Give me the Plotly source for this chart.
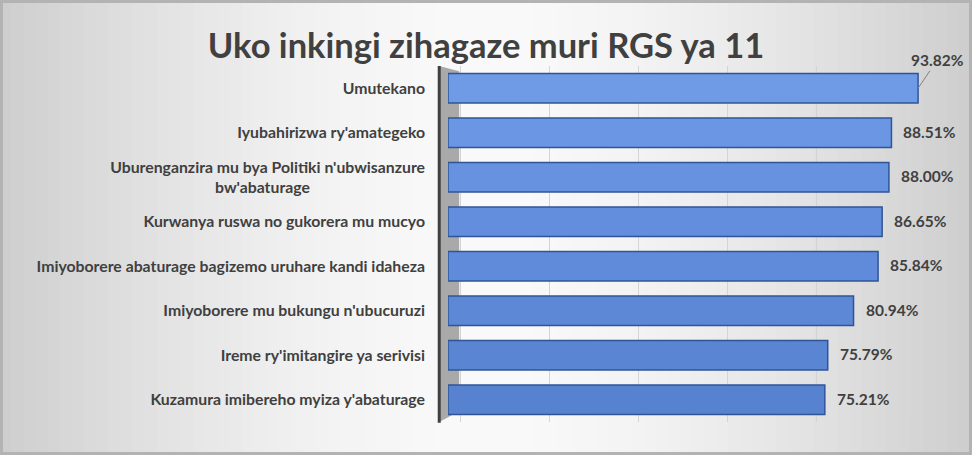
import plotly.graph_objects as go

# RGS 11 pillar scores (top to bottom as shown)
pillars = [
    "Umutekano",
    "Iyubahirizwa ry'amategeko",
    "Uburenganzira mu bya Politiki n'ubwisanzure<br>bw'abaturage" + "\u00a0" * 30,
    "Kurwanya ruswa no gukorera mu mucyo",
    "Imiyoborere abaturage bagizemo uruhare kandi idaheza",
    "Imiyoborere mu bukungu n'ubucuruzi",
    "Ireme ry'imitangire ya serivisi",
    "Kuzamura imibereho myiza y'abaturage",
]
scores = [93.82, 88.51, 88.00, 86.65, 85.84, 80.94, 75.79, 75.21]
labels = [f"{v:.2f}%" for v in scores]

font_name = "Lato"
text_col = "#404040"

# bars get slightly lighter towards the top, like the 3D shading in the original
bar_colors = ["#6e9ae6", "#6a96e3", "#6692e0", "#628edd", "#5f8bda", "#5c88d6", "#5985d3", "#5682d0"]

fig = go.Figure()

fig.add_trace(go.Bar(
    x=scores, y=pillars, orientation="h", width=0.66,
    marker=dict(color=bar_colors, line=dict(color="#2f5597", width=1.5)),
    showlegend=False,
))

# grid on the back wall (0-100 in steps of 20)
fig.add_trace(go.Scatter(x=[0, 100], y=[pillars[0], pillars[0]], xaxis="x2", yaxis="y",
                         mode="markers", marker=dict(opacity=0), showlegend=False,
                         hoverinfo="skip"))

# data labels
annotations = []
for i, (p, v, t) in enumerate(zip(pillars, scores, labels)):
    if i == 0:
        annotations.append(dict(x=v, y=p, xref="x", yref="y", text=t, showarrow=True,
                                ax=19, ay=-28, arrowhead=0, arrowwidth=1, arrowcolor="#808080",
                                font=dict(family=font_name, size=15.5, color=text_col, weight="bold")))
    else:
        annotations.append(dict(x=v, y=p, xref="x", yref="y", text=t, showarrow=False,
                                xanchor="left", xshift=10, yshift=1,
                                font=dict(family=font_name, size=15.5, color=text_col, weight="bold")))

# background gradient strips + wall + border
shapes = []
n = 80
for k in range(n):
    f = (k + 0.5) / n
    d = abs(f - 0.5) / 0.5
    g = int(250 - 44 * d ** 1.6)
    shapes.append(dict(type="rect", xref="paper", yref="paper", layer="below",
                       x0=-448 / 487 + (k / n) * (972 / 487) - 0.002,
                       x1=-448 / 487 + ((k + 1) / n) * (972 / 487) + 0.002,
                       y0=-0.2, y1=1.3,
                       line=dict(width=0), fillcolor=f"rgb({g},{g},{g})"))
shapes.append(dict(type="path", xref="paper", yref="paper", layer="below",
                   path="M -0.018 1.0 L 0.023 0.985 L 0.023 0.03 L -0.018 0.0 Z",
                   fillcolor="#a9a9a9", line=dict(width=0)))
shapes.append(dict(type="line", xref="paper", yref="paper", x0=-0.018, x1=-0.018,
                   y0=-0.002, y1=1.0, line=dict(color="#404040", width=3)))
shapes.append(dict(type="rect", xref="paper", yref="paper", x0=-448 / 487 + 0.002,
                   x1=1 + 37 / 487 - 0.002, y0=-33 / 356 + 0.003, y1=1 + 66 / 356 - 0.003,
                   line=dict(color="#b3b3b3", width=4)))

fig.update_layout(
    width=972, height=455,
    margin=dict(l=448, r=37, t=66, b=33),
    paper_bgcolor="#ececec", plot_bgcolor="rgba(0,0,0,0)",
    title=dict(text="Uko inkingi zihagaze muri RGS ya 11", x=0.5, xanchor="center",
               y=0.9, yanchor="middle",
               font=dict(family=font_name, size=34.5, color=text_col, weight="bold")),
    xaxis=dict(range=[0, 97.2], showgrid=False, showticklabels=False, zeroline=False,
               showline=False, fixedrange=True),
    xaxis2=dict(overlaying="x", range=[-2.7, 106.7], dtick=20, showgrid=True,
                gridcolor="#d4d4d4", gridwidth=1, showticklabels=False, zeroline=False),
    yaxis=dict(type="category", autorange="reversed", showgrid=False, zeroline=False,
               showline=False, ticklabelstandoff=22,
               tickfont=dict(family=font_name, size=15.8, color=text_col, weight="bold")),
    bargap=0.3,
    annotations=annotations,
    shapes=shapes,
    font=dict(family=font_name),
)

fig.write_html("out.html", config={"displayModeBar": False},
               post_script="document.body.style.margin='0px';")
